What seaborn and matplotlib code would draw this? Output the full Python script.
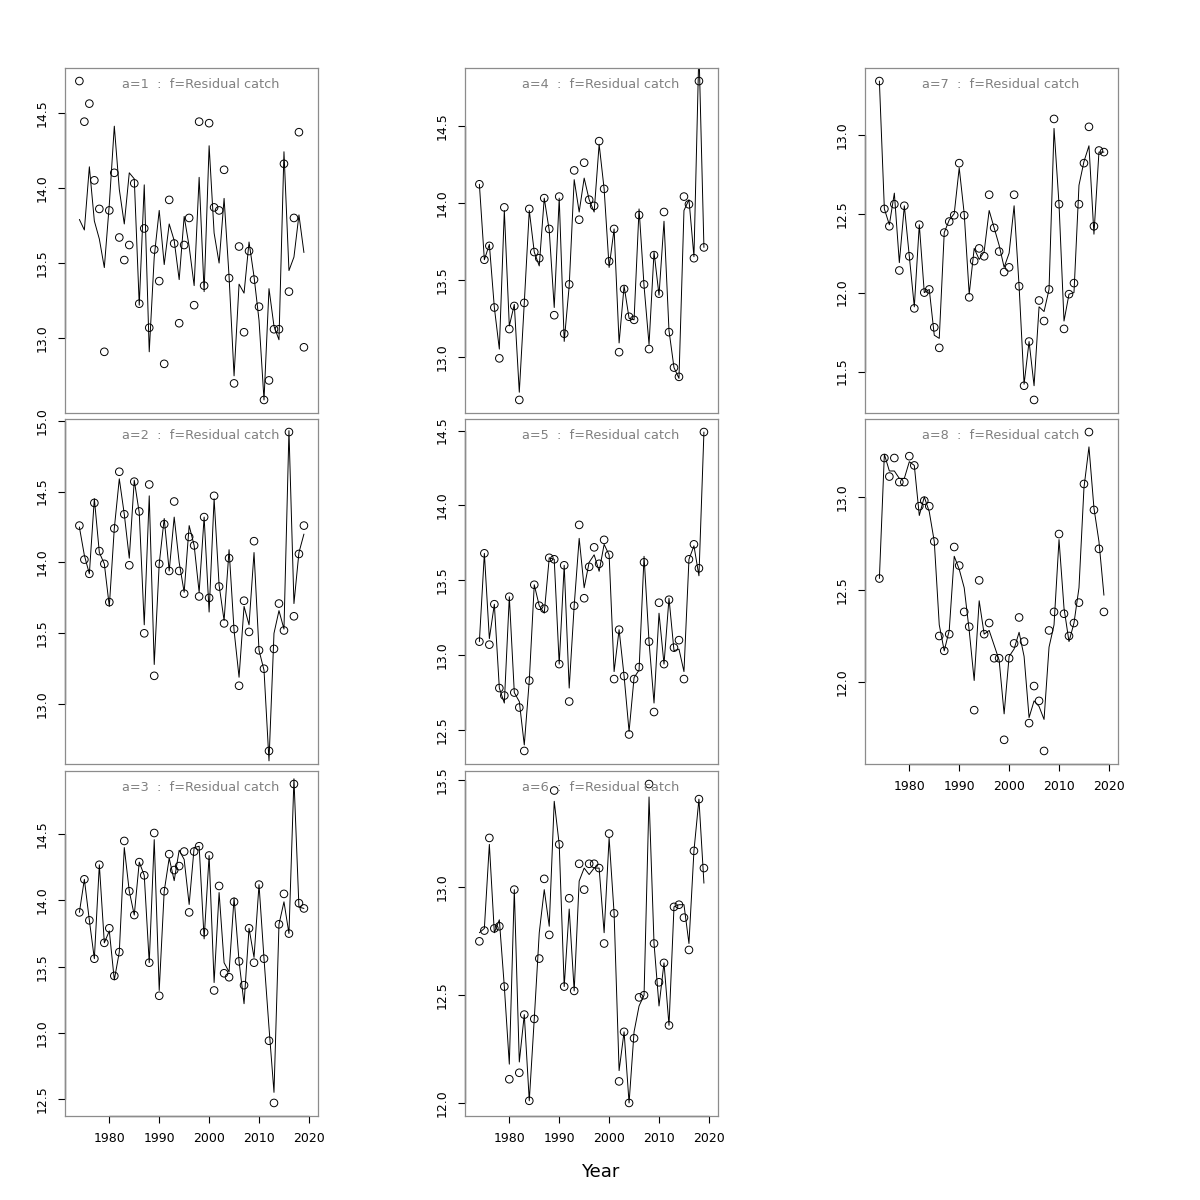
import matplotlib
matplotlib.use("Agg")
import matplotlib.pyplot as plt
from matplotlib.ticker import MultipleLocator, FormatStrFormatter
import seaborn as sns

# annees et series (observe = cercles, ajuste = ligne), par age
years = list(range(1974, 2020))

obs_a1 = [14.71, 14.44, 14.56, 14.05, 13.86, 12.91, 13.85, 14.10, 13.67, 13.52,
          13.62, 14.03, 13.23, 13.73, 13.07, 13.59, 13.38, 12.83, 13.92, 13.63,
          13.10, 13.62, 13.80, 13.22, 14.44, 13.35, 14.43, 13.87, 13.85, 14.12,
          13.40, 12.70, 13.61, 13.04, 13.58, 13.39, 13.21, 12.59, 12.72, 13.06,
          13.06, 14.16, 13.31, 13.80, 14.37, 12.94]
fit_a1 = [13.79, 13.72, 14.14, 13.78, 13.66, 13.47, 13.89, 14.41, 13.99, 13.76,
          14.10, 14.06, 13.22, 14.02, 12.91, 13.54, 13.85, 13.49, 13.76, 13.65,
          13.39, 13.81, 13.61, 13.35, 14.07, 13.31, 14.28, 13.70, 13.50, 13.93,
          13.41, 12.75, 13.36, 13.30, 13.64, 13.41, 13.12, 12.59, 13.33, 13.08,
          12.99, 14.24, 13.45, 13.54, 13.82, 13.57]

obs_a2 = [14.26, 14.02, 13.92, 14.42, 14.08, 13.99, 13.72, 14.24, 14.64, 14.34,
          13.98, 14.57, 14.36, 13.50, 14.55, 13.20, 13.99, 14.27, 13.94, 14.43,
          13.94, 13.78, 14.18, 14.12, 13.76, 14.32, 13.75, 14.47, 13.83, 13.57,
          14.03, 13.53, 13.13, 13.73, 13.51, 14.15, 13.38, 13.25, 12.67, 13.39,
          13.71, 13.52, 14.92, 13.62, 14.06, 14.26]
fit_a2 = [14.25, 14.05, 13.92, 14.45, 14.07, 13.99, 13.69, 14.24, 14.59, 14.34,
          14.03, 14.58, 14.35, 13.56, 14.47, 13.28, 13.99, 14.31, 13.94, 14.32,
          14.00, 13.79, 14.26, 14.12, 13.79, 14.32, 13.65, 14.45, 13.84, 13.59,
          14.09, 13.52, 13.19, 13.69, 13.56, 14.07, 13.38, 13.24, 12.60, 13.50,
          13.66, 13.53, 14.93, 13.71, 14.07, 14.20]

obs_a3 = [13.91, 14.16, 13.85, 13.56, 14.27, 13.68, 13.79, 13.43, 13.61, 14.45,
          14.07, 13.89, 14.29, 14.19, 13.53, 14.51, 13.28, 14.07, 14.35, 14.23,
          14.26, 14.37, 13.91, 14.37, 14.41, 13.76, 14.34, 13.32, 14.11, 13.45,
          13.42, 13.99, 13.54, 13.36, 13.79, 13.53, 14.12, 13.56, 12.94, 12.47,
          13.82, 14.05, 13.75, 14.88, 13.98, 13.94]
fit_a3 = [13.91, 14.16, 13.85, 13.56, 14.27, 13.68, 13.77, 13.40, 13.61, 14.40,
          14.07, 13.89, 14.29, 14.19, 13.53, 14.46, 13.32, 14.07, 14.32, 14.15,
          14.38, 14.31, 13.97, 14.40, 14.41, 13.71, 14.34, 13.38, 14.06, 13.53,
          13.46, 14.02, 13.54, 13.22, 13.79, 13.57, 14.12, 13.56, 13.04, 12.55,
          13.82, 13.99, 13.75, 14.92, 13.95, 13.94]

obs_a4 = [14.12, 13.63, 13.72, 13.32, 12.99, 13.97, 13.18, 13.33, 12.72, 13.35,
          13.96, 13.68, 13.64, 14.03, 13.83, 13.27, 14.04, 13.15, 13.47, 14.21,
          13.89, 14.26, 14.02, 13.98, 14.40, 14.09, 13.62, 13.83, 13.03, 13.44,
          13.26, 13.24, 13.92, 13.47, 13.05, 13.66, 13.41, 13.94, 13.16, 12.93,
          12.87, 14.04, 13.99, 13.64, 14.79, 13.71]
fit_a4 = [14.12, 13.63, 13.73, 13.32, 13.05, 13.95, 13.20, 13.34, 12.77, 13.35,
          13.95, 13.68, 13.59, 14.03, 13.82, 13.32, 14.03, 13.10, 13.46, 14.15,
          13.94, 14.16, 14.02, 13.94, 14.38, 14.09, 13.58, 13.83, 13.09, 13.46,
          13.25, 13.24, 13.96, 13.46, 13.08, 13.68, 13.40, 13.88, 13.17, 12.93,
          12.86, 13.95, 14.02, 13.65, 15.00, 13.71]

obs_a5 = [13.09, 13.68, 13.07, 13.34, 12.78, 12.73, 13.39, 12.75, 12.65, 12.36,
          12.83, 13.47, 13.33, 13.31, 13.65, 13.64, 12.94, 13.60, 12.69, 13.33,
          13.87, 13.38, 13.59, 13.72, 13.61, 13.77, 13.67, 12.84, 13.17, 12.86,
          12.47, 12.84, 12.92, 13.62, 13.09, 12.62, 13.35, 12.94, 13.37, 13.05,
          13.10, 12.84, 13.64, 13.74, 13.58, 14.49]
fit_a5 = [13.09, 13.68, 13.11, 13.34, 12.78, 12.68, 13.39, 12.75, 12.69, 12.40,
          12.83, 13.47, 13.33, 13.28, 13.65, 13.64, 12.94, 13.60, 12.78, 13.33,
          13.78, 13.45, 13.62, 13.67, 13.56, 13.74, 13.67, 12.89, 13.17, 12.86,
          12.49, 12.85, 12.90, 13.66, 13.09, 12.68, 13.28, 12.94, 13.38, 13.03,
          13.04, 12.89, 13.64, 13.73, 13.53, 14.49]

obs_a6 = [12.75, 12.80, 13.23, 12.81, 12.82, 12.54, 12.11, 12.99, 12.14, 12.41,
          12.01, 12.39, 12.67, 13.04, 12.78, 13.45, 13.20, 12.54, 12.95, 12.52,
          13.11, 12.99, 13.11, 13.11, 13.09, 12.74, 13.25, 12.88, 12.10, 12.33,
          12.00, 12.30, 12.49, 12.50, 13.48, 12.74, 12.56, 12.65, 12.36, 12.91,
          12.92, 12.86, 12.71, 13.17, 13.41, 13.09]
fit_a6 = [12.79, 12.81, 13.20, 12.79, 12.85, 12.54, 12.18, 12.99, 12.19, 12.41,
          12.01, 12.39, 12.79, 12.99, 12.82, 13.40, 13.20, 12.54, 12.90, 12.52,
          13.03, 13.09, 13.06, 13.09, 13.09, 12.79, 13.23, 12.88, 12.15, 12.33,
          12.00, 12.33, 12.45, 12.50, 13.42, 12.74, 12.45, 12.65, 12.36, 12.91,
          12.92, 12.92, 12.74, 13.17, 13.41, 13.02]

obs_a7 = [13.34, 12.53, 12.42, 12.56, 12.14, 12.55, 12.23, 11.90, 12.43, 12.00,
          12.02, 11.78, 11.65, 12.38, 12.45, 12.49, 12.82, 12.49, 11.97, 12.20,
          12.28, 12.23, 12.62, 12.41, 12.26, 12.13, 12.16, 12.62, 12.04, 11.41,
          11.69, 11.32, 11.95, 11.82, 12.02, 13.10, 12.56, 11.77, 11.99, 12.06,
          12.56, 12.82, 13.05, 12.42, 12.90, 12.89]
fit_a7 = [13.34, 12.53, 12.43, 12.63, 12.19, 12.55, 12.23, 11.91, 12.43, 12.00,
          12.02, 11.73, 11.71, 12.38, 12.46, 12.50, 12.79, 12.50, 11.99, 12.28,
          12.21, 12.26, 12.52, 12.41, 12.30, 12.16, 12.25, 12.55, 12.04, 11.42,
          11.69, 11.41, 11.91, 11.88, 12.02, 13.04, 12.56, 11.82, 11.99, 12.00,
          12.68, 12.83, 12.93, 12.37, 12.89, 12.89]

obs_a8 = [12.56, 13.21, 13.11, 13.21, 13.08, 13.08, 13.22, 13.17, 12.95, 12.98,
          12.95, 12.76, 12.25, 12.17, 12.26, 12.73, 12.63, 12.38, 12.30, 11.85,
          12.55, 12.26, 12.32, 12.13, 12.13, 11.69, 12.13, 12.21, 12.35, 12.22,
          11.78, 11.98, 11.90, 11.63, 12.28, 12.38, 12.80, 12.37, 12.25, 12.32,
          12.43, 13.07, 13.35, 12.93, 12.72, 12.38]
fit_a8 = [12.56, 13.23, 13.14, 13.14, 13.10, 13.10, 13.19, 13.17, 12.90, 13.00,
          12.92, 12.76, 12.31, 12.17, 12.28, 12.68, 12.61, 12.51, 12.28, 12.01,
          12.44, 12.26, 12.28, 12.20, 12.12, 11.83, 12.14, 12.18, 12.27, 12.14,
          11.81, 11.90, 11.87, 11.80, 12.19, 12.31, 12.77, 12.40, 12.22, 12.32,
          12.51, 13.05, 13.27, 12.94, 12.76, 12.47]

ages = [1, 2, 3, 4, 5, 6, 7, 8]
obs_all = [obs_a1, obs_a2, obs_a3, obs_a4, obs_a5, obs_a6, obs_a7, obs_a8]
fit_all = [fit_a1, fit_a2, fit_a3, fit_a4, fit_a5, fit_a6, fit_a7, fit_a8]
xticks = [1980, 1990, 2000, 2010, 2020]

sns.set_style("white")
plt.rcParams['font.family'] = ['DejaVu Sans']
plt.rcParams['text.color'] = 'black'
plt.rcParams['xtick.color'] = 'black'
plt.rcParams['ytick.color'] = 'black'
plt.rcParams['xtick.labelcolor'] = 'black'
plt.rcParams['ytick.labelcolor'] = 'black'

fig = plt.figure(figsize=(12, 12), dpi=100)

# position des panneaux en pixels (3 colonnes, 3 lignes max)
lefts = [65, 465, 865]
tops = [68.3, 419.3, 771.3]
W, H = 253.3, 344.4

for i, (age, obs, fit) in enumerate(zip(ages, obs_all, fit_all)):
    col, row = i // 3, i % 3
    ax = fig.add_axes([lefts[col] / 1200, 1 - (tops[row] + H) / 1200, W / 1200, H / 1200])

    sns.lineplot(x=years, y=fit, color='black', lw=0.7, estimator=None, ax=ax)
    sns.scatterplot(x=years, y=obs, marker='o', s=30, facecolor='none',
                    edgecolor='black', linewidth=0.7, ax=ax, zorder=3)

    # limites comme R : etendue des observations +- 4%
    lo, hi = min(obs), max(obs)
    pad = 0.04 * (hi - lo)
    ax.set_ylim(lo - pad, hi + pad)
    ax.set_xlim(1971.12, 2021.88)

    ax.yaxis.set_major_locator(MultipleLocator(0.5))
    ax.yaxis.set_major_formatter(FormatStrFormatter('%.1f'))
    ax.tick_params(axis='y', left=True, direction='out', length=5, width=0.8,
                   pad=7, labelsize=9, labelrotation=90, color='black',
                   labelcolor='black')
    for lbl in ax.get_yticklabels():
        lbl.set_va('center')

    for sp in ax.spines.values():
        sp.set_color('#8c8c8c')
        sp.set_linewidth(0.9)

    yt = [t for t in ax.get_yticks() if lo - pad <= t <= hi + pad]
    ax.plot([0, 0], [yt[0], yt[-1]], transform=ax.get_yaxis_transform(),
            color='black', lw=0.9, clip_on=False)

    last_in_col = (i == 2) or (i == 5) or (i == 7)
    if last_in_col:
        ax.set_xticks(xticks)
        ax.set_xticklabels([str(t) for t in xticks])
        ax.tick_params(axis='x', bottom=True, direction='out', length=5, width=0.8,
                       pad=6.5, labelsize=9, color='black', labelcolor='black')
        ax.plot([xticks[0], xticks[-1]], [0, 0], transform=ax.get_xaxis_transform(),
                color='black', lw=0.9, clip_on=False)
    else:
        ax.set_xticks([])

    ax.set_xlabel('')
    ax.set_ylabel('')
    ax.text(0.535, 0.954, f"a={age}  :  f=Residual catch", transform=ax.transAxes,
            ha='center', va='center', color='#808080', fontsize=9.3)

fig.text(0.5, 1 - 1172 / 1200, 'Year', ha='center', va='center', fontsize=13,
         color='black')

fig.savefig('out.png', dpi=100)
